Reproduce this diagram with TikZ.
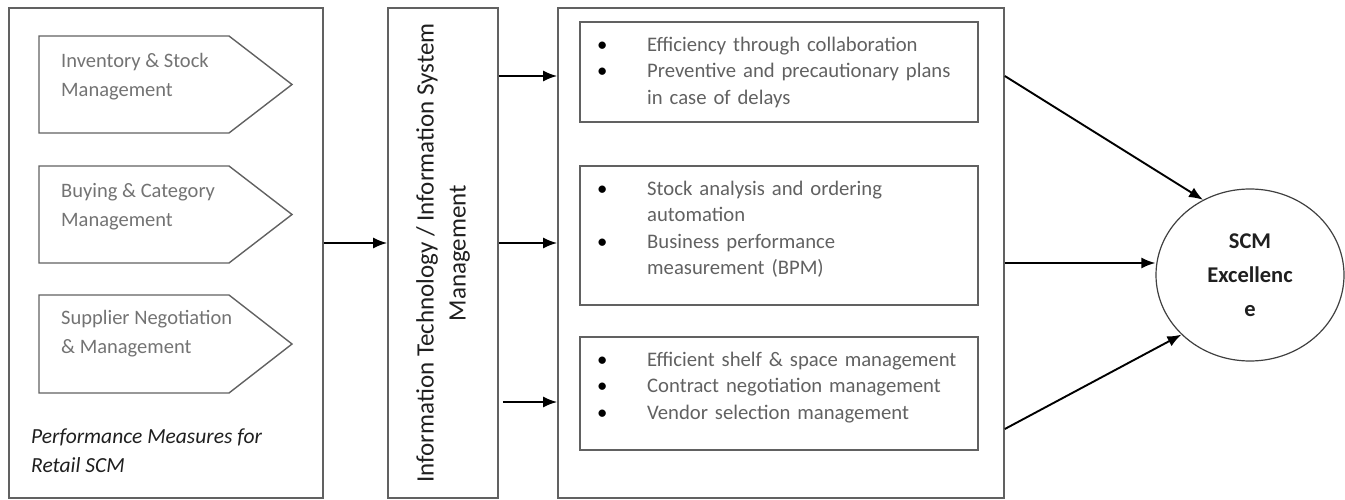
\documentclass[tikz,border=0pt]{standalone}
\usepackage{fontspec}
\setmainfont{Carlito}
\usepackage{xcolor}
\usepackage{tikz}
\usetikzlibrary{positioning}
\usetikzlibrary{shapes.geometric,arrows.meta}
\definecolor{boxgray}{gray}{0.38}
\definecolor{pentgray}{gray}{0.45}
\definecolor{listgray}{gray}{0.38}
\definecolor{darktext}{gray}{0.12}
\newcommand{\pentfont}{\fontsize{20.5}{29}\selectfont}
\newcommand{\captfont}{\fontsize{21.5}{29}\selectfont\itshape}
\newcommand{\listfont}{\fontsize{20.7}{26.5}\selectfont}
\newcommand{\vertfont}{\fontsize{25}{32}\selectfont}
\newcommand{\goalfont}{\fontsize{22.5}{34}\selectfont\bfseries}
\newcommand{\bitem}[1]{\hangindent=50pt\hangafter=1\noindent
  \makebox[50pt][l]{\strut\textcolor{black}{\textbullet}}#1\par}
\tikzset{
  frame/.style = {rectangle, draw=boxgray, line width=1.6pt, inner sep=0pt},
  listbox/.style = {frame, minimum width=398pt},% one box of bullet points
  pentline/.style = {draw=boxgray, line width=1.4pt},
  penttext/.style = {anchor=north west, inner sep=0pt, align=left,
    text=pentgray, font=\pentfont},
  listtext/.style = {anchor=north west, inner sep=0pt, text width=375pt,
    text=listgray, font=\listfont},
  goal/.style = {ellipse, draw=black!75, line width=1.2pt, inner sep=0pt,
    minimum width=188pt, minimum height=172pt, align=center,
    text=darktext, font=\goalfont},
  link/.style = {->, line width=1.9pt}
}

\begin{document}
\begin{tikzpicture}[x=1pt,y=-1pt,>={Latex[length=14pt,width=11pt]}]
\useasboundingbox (0,0) rectangle (1345,500);
% left frame: the three measures
\node [frame, minimum width=314pt, minimum height=490pt] (perf) at (166,253) {};
\draw [pentline] (39,36) -- (229,36) -- (292,84.5) -- (229,133) -- (39,133) -- cycle;
\draw [pentline] (39,166) -- (229,166) -- (292,214.5) -- (229,263) -- (39,263) -- cycle;
\draw [pentline] (39,295) -- (229,295) -- (292,344) -- (229,393) -- (39,393) -- cycle;
\node [penttext] (inv) at (61,46.7) {\strut Inventory \& Stock\\Management};
\node [penttext] (buy) at (61,176.7) {\strut Buying \& Category\\Management};
\node [penttext] (sup) at (61,303.7) {\strut Supplier Negotiation\\\& Management};
\node [penttext, text=darktext, font=\captfont] (caption) at (31,422.7)
  {\strut Performance Measures for\\Retail SCM};
% IT / IS column
\node [frame, minimum width=110pt, minimum height=490pt] (it) at (443,253) {};
\node [rotate=90, align=center, inner sep=0pt, font=\vertfont, text=darktext] (itlabel)
  at (it.center) {Information Technology / Information System\\Management};
% frame with the bullet lists
\node [frame, minimum width=446pt, minimum height=490pt] (big) at (781,253) {};
\node [listbox, minimum height=100pt] (fx1) at (779,72) {};
\node [listbox, minimum height=139pt] (fx2) at (779,235.5) {};
\node [listbox, minimum height=113pt] (fx3) at (779,393.5) {};
\node [listtext] (fx1txt) at (597,32.5)
  {\bitem{Efficiency through collaboration}%
   \bitem{Preventive and precautionary plans\newline in case of delays}};
\node [listtext] (fx2txt) at (597,176.5)
  {\bitem{Stock analysis and ordering\newline automation}%
   \bitem{Business performance\newline measurement (BPM)}};
\node [listtext] (fx3txt) at (597,347.5)
  {\bitem{Efficient shelf \& space management}%
   \bitem{Contract negotiation management}%
   \bitem{Vendor selection management}};
% goal
\node [goal] (scm) at (1250,275) {SCM\\Excellenc\\e};
% connectors
\draw [link] (perf.east |- 0,243) -- (it.west |- 0,243);
\draw [link] (it.east |- 0,76) -- (big.west |- 0,76);
\draw [link] (it.east |- 0,243) -- (big.west |- 0,243);
\draw [link, shorten <=4pt] (it.east |- 0,402) -- (big.west |- 0,402);
\draw [link] (big.east |- 0,76) -- (scm.122);
\draw [link] (big.east |- 0,263) -- (scm.west |- 0,263);
\draw [link] (big.east |- 0,429) -- (scm.221);
\end{tikzpicture}
\end{document}
